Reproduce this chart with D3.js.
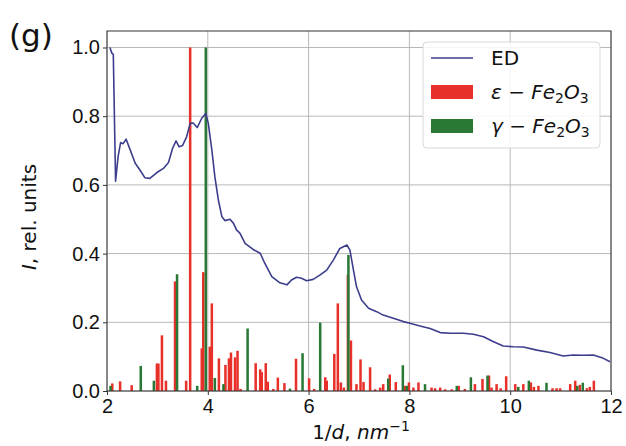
<!DOCTYPE html>
<html>
<head>
<meta charset="utf-8">
<script src="https://cdn.jsdelivr.net/npm/d3@7"></script>
<style>
  body { margin: 0; background: #fff; }
  svg { font-family: "DejaVu Sans", sans-serif; }
  .grid line { stroke: #b8b8b8; stroke-width: 1; }
  .axis path { display: none; }
  .axis line { stroke: #333; }
  .axis text { font-size: 20px; fill: #111; }
</style>
</head>
<body>
<svg id="chart"></svg>
<script>
// ED profile
var edX = [2.06, 2.08, 2.10, 2.125, 2.17, 2.22, 2.27, 2.32, 2.38, 2.46, 2.56, 2.65, 2.75, 2.85, 2.99,
    3.12, 3.22, 3.30, 3.37, 3.43, 3.50, 3.58, 3.65, 3.71, 3.79, 3.88, 3.96, 4.01, 4.08, 4.14,
    4.21, 4.28, 4.34, 4.44, 4.51, 4.57, 4.64, 4.74, 4.90, 5.04, 5.13, 5.27, 5.43, 5.57, 5.66,
    5.76, 5.86, 5.96, 6.09, 6.23, 6.36, 6.49, 6.62, 6.76, 6.82, 6.89, 6.95, 7.05, 7.19, 7.35,
    7.48, 7.68, 7.88, 8.01, 8.21, 8.41, 8.61, 8.81, 9.07, 9.27, 9.47, 9.66, 9.86, 10.06, 10.26,
    10.53, 10.79, 11.05, 11.25, 11.45, 11.65, 11.85, 11.98];
var edY = [1.0, 0.99, 0.983, 0.98, 0.611, 0.682, 0.723, 0.72, 0.733, 0.702, 0.663, 0.644, 0.621, 0.619, 0.636,
    0.648, 0.665, 0.706, 0.728, 0.711, 0.715, 0.74, 0.779, 0.78, 0.767, 0.794, 0.808, 0.779, 0.702, 0.624,
    0.556, 0.507, 0.496, 0.50, 0.488, 0.469, 0.459, 0.43, 0.412, 0.401, 0.372, 0.333, 0.315, 0.309, 0.323,
    0.331, 0.328, 0.321, 0.325, 0.338, 0.352, 0.381, 0.415, 0.425, 0.41, 0.352, 0.304, 0.265, 0.241, 0.231,
    0.221, 0.212, 0.202, 0.197, 0.189, 0.182, 0.17, 0.168, 0.168, 0.165, 0.158, 0.144, 0.131, 0.129, 0.128,
    0.119, 0.112, 0.102, 0.105, 0.104, 0.105, 0.095, 0.085];

// epsilon-Fe2O3 reference lines
var epsX = [2.105, 2.26, 2.49, 2.99, 3.02, 3.09, 3.17, 3.35, 3.57, 3.65, 3.88, 3.91, 4.04, 4.08, 4.22,
    4.35, 4.42, 4.46, 4.54, 4.59, 4.65, 4.95, 5.04, 5.07, 5.15, 5.19, 5.30, 5.39, 5.52, 5.75,
    6.01, 6.11, 6.33, 6.36, 6.51, 6.58, 6.64, 6.70, 6.78, 6.84, 6.95, 7.03, 7.09, 7.22, 7.32,
    7.42, 7.48, 7.61, 7.73, 7.91, 7.99, 8.08, 8.18, 8.44, 8.51, 8.61, 8.71, 8.84, 8.98, 9.10,
    9.30, 9.45, 9.58, 9.63, 9.73, 9.81, 9.92, 10.10, 10.26, 10.41, 10.47, 10.56, 10.84, 10.92, 10.99,
    11.19, 11.29, 11.38, 11.52, 11.58, 11.66];
var epsY = [0.022, 0.028, 0.017, 0.08, 0.08, 0.162, 0.03, 0.319, 0.03, 1.0, 0.124, 0.346, 0.129, 0.255, 0.095,
    0.076, 0.095, 0.112, 0.098, 0.117, 0.006, 0.081, 0.063, 0.055, 0.081, 0.027, 0.006, 0.039, 0.023, 0.094,
    0.037, 0.006, 0.04, 0.03, 0.108, 0.255, 0.025, 0.01, 0.338, 0.147, 0.02, 0.092, 0.026, 0.069, 0.005,
    0.01, 0.02, 0.048, 0.026, 0.015, 0.025, 0.01, 0.025, 0.01, 0.008, 0.01, 0.005, 0.005, 0.015, 0.006,
    0.02, 0.035, 0.045, 0.01, 0.02, 0.008, 0.043, 0.02, 0.02, 0.025, 0.012, 0.015, 0.008, 0.008, 0.008,
    0.02, 0.03, 0.018, 0.008, 0.012, 0.03];

// gamma-Fe2O3 reference lines
var gamX = [2.07, 2.67, 2.93, 3.39, 3.79, 3.96, 4.14, 4.31, 4.79, 5.63, 5.88, 6.23, 6.79, 7.58, 7.87,
    7.95, 8.31, 8.94, 9.22, 9.55, 10.16, 10.37, 10.72, 11.33, 11.44];
var gamY = [0.015, 0.073, 0.03, 0.34, 0.015, 1.0, 0.038, 0.02, 0.182, 0.007, 0.11, 0.199, 0.396, 0.036, 0.075,
    0.015, 0.02, 0.015, 0.04, 0.045, 0.012, 0.03, 0.024, 0.015, 0.024];

var xTicks = [2, 4, 6, 8, 10, 12];
var yTicks = [0.0, 0.2, 0.4, 0.6, 0.8, 1.0];

var W = 626, H = 446;
var margin = {left: 107, top: 31, right: 15, bottom: 55};
var iw = W - margin.left - margin.right,
    ih = H - margin.top - margin.bottom;

var red = "#e8302a", green = "#2a7836", navy = "#3d3d8e";

var svg = d3.select("#chart").attr("width", W).attr("height", H);
var g = svg.append("g").attr("transform", "translate(" + margin.left + "," + margin.top + ")");

var x = d3.scaleLinear().domain([2, 12]).range([0, iw]);
var y = d3.scaleLinear().domain([0, 1.048]).range([ih, 0]);

// grid
g.append("g").attr("class", "grid")
  .selectAll("line").data(xTicks).enter().append("line")
    .attr("x1", d => x(d)).attr("x2", d => x(d)).attr("y1", 0).attr("y2", ih);
g.append("g").attr("class", "grid")
  .selectAll("line").data(yTicks).enter().append("line")
    .attr("y1", d => y(d)).attr("y2", d => y(d)).attr("x1", 0).attr("x2", iw);

var bw = x(2.05) - x(2);

var plot = g.append("g");
plot.selectAll(".eps").data(epsX).enter().append("rect")
    .attr("class", "eps")
    .attr("x", d => x(d) - bw / 2)
    .attr("width", bw)
    .attr("y", (d, i) => y(epsY[i]))
    .attr("height", (d, i) => y(0) - y(epsY[i]))
    .attr("fill", red);

plot.selectAll(".gam").data(gamX).enter().append("rect")
    .attr("class", "gam")
    .attr("x", d => x(d) - bw / 2)
    .attr("width", bw)
    .attr("y", (d, i) => y(gamY[i]))
    .attr("height", (d, i) => y(0) - y(gamY[i]))
    .attr("fill", green);

var line = d3.line()
    .x(d => x(d))
    .y((d, i) => y(edY[i]));

plot.append("path")
    .attr("d", line(edX))
    .attr("fill", "none")
    .attr("stroke", navy)
    .attr("stroke-width", 1.6)
    .attr("stroke-linejoin", "round");

// axes
g.append("g").attr("class", "axis")
    .attr("transform", "translate(0," + ih + ")")
    .call(d3.axisBottom(x).tickValues(xTicks).tickSize(4).tickPadding(4).tickFormat(d3.format("d")));
g.append("g").attr("class", "axis")
    .call(d3.axisLeft(y).tickValues(yTicks).tickSize(4).tickPadding(3).tickFormat(d3.format(".1f")));

g.append("rect")
    .attr("width", iw).attr("height", ih)
    .attr("fill", "none").attr("stroke", "#333").attr("stroke-width", 1);

// legend
var lg = g.append("g").attr("transform", "translate(" + (423 - margin.left) + "," + (42 - margin.top) + ")");
lg.append("rect")
    .attr("width", 177).attr("height", 106).attr("rx", 4)
    .attr("fill", "#fff").attr("fill-opacity", 0.85)
    .attr("stroke", "#d8d8d8");

var legendItems = ["ED", "eps", "gam"];
legendItems.forEach(function(k, i) {
  var cy = 16 + i * 34;
  if (k === "ED") {
    lg.append("line").attr("x1", 8).attr("x2", 50).attr("y1", cy).attr("y2", cy)
      .attr("stroke", navy).attr("stroke-width", 1.6);
  } else {
    lg.append("rect").attr("x", 8).attr("y", cy - 7).attr("width", 42).attr("height", 14)
      .attr("fill", k === "eps" ? red : green);
  }
  var t = lg.append("text").attr("x", 68).attr("y", cy + 7).attr("font-size", 20).attr("fill", "#111");
  if (k === "ED") {
    t.text("ED");
  } else {
    t.append("tspan").attr("font-style", "italic").text(k === "eps" ? "ε" : "γ");
    t.append("tspan").text(" − ");
    t.append("tspan").attr("font-style", "italic").text("Fe");
    t.append("tspan").attr("font-size", 14).attr("dy", 4).text("2");
    t.append("tspan").attr("font-style", "italic").attr("dy", -4).text("O");
    t.append("tspan").attr("font-size", 14).attr("dy", 4).text("3");
  }
});

// axis labels
var xl = svg.append("text")
    .attr("x", margin.left + iw / 2 + 2).attr("y", 439)
    .attr("text-anchor", "middle").attr("font-size", 20).attr("fill", "#111");
xl.append("tspan").text("1/");
xl.append("tspan").attr("font-style", "italic").text("d");
xl.append("tspan").text(", ");
xl.append("tspan").attr("font-style", "italic").text("nm");
xl.append("tspan").attr("font-size", 14).attr("dy", -8).text("−1");

var yl = svg.append("text")
    .attr("transform", "translate(36," + (margin.top + ih / 2 + 6) + ") rotate(-90)")
    .attr("text-anchor", "middle").attr("font-size", 20).attr("fill", "#111");
yl.append("tspan").attr("font-style", "italic").text("I");
yl.append("tspan").text(", rel. units");

svg.append("text")
    .attr("x", 9).attr("y", 46)
    .attr("font-size", 31).attr("fill", "#111")
    .text("(g)");
</script>
</body>
</html>
